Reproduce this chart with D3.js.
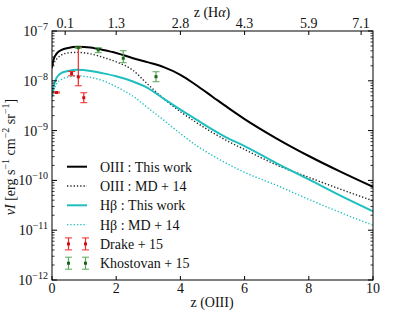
<!DOCTYPE html>
<html>
<head>
<meta charset="utf-8">
<script src="https://cdn.jsdelivr.net/npm/d3@7"></script>
<style>
  body { margin: 0; background: #fff; }
  svg { display: block; font-family: "Liberation Serif", "DejaVu Serif", serif; }
</style>
</head>
<body>
<div id="chart"></div>
<script>
// redshift grid shared by the four model curves
const zGrid = [0, 0.05, 0.15, 0.3, 0.5, 0.8, 1.2, 1.6, 2.0, 2.5, 3.0, 3.5, 4.0, 4.5, 5.0, 5.5, 6.0, 7.0, 8.0, 9.0, 10.0];

const oiiiThisWork = [1.91e-8, 2.69e-8, 3.55e-8, 4.17e-8, 4.57e-8, 4.84e-8, 4.68e-8, 4.17e-8, 3.63e-8, 2.88e-8, 2.34e-8,
  1.86e-8, 1.32e-8, 8.13e-9, 4.79e-9, 2.82e-9, 1.70e-9, 6.92e-10, 3.09e-10, 1.48e-10, 7.41e-11];
const oiiiMD14 = [1.78e-8, 2.19e-8, 2.75e-8, 3.31e-8, 3.63e-8, 3.72e-8, 3.47e-8, 2.95e-8, 2.40e-8, 1.66e-8, 8.32e-9,
  4.27e-9, 2.40e-9, 1.45e-9, 9.12e-10, 6.03e-10, 4.17e-10, 2.04e-10, 1.15e-10, 6.61e-11, 3.89e-11];
const hbThisWork = [4.79e-9, 7.59e-9, 1.17e-8, 1.45e-8, 1.58e-8, 1.66e-8, 1.58e-8, 1.41e-8, 1.23e-8, 9.77e-9, 7.08e-9,
  4.27e-9, 2.63e-9, 1.66e-9, 1.05e-9, 6.92e-10, 4.90e-10, 2.19e-10, 1.05e-10, 4.90e-11, 2.40e-11];
const hbMD14 = [4.79e-9, 6.31e-9, 8.91e-9, 1.07e-8, 1.20e-8, 1.26e-8, 1.17e-8, 1.00e-8, 7.59e-9, 5.01e-9, 2.82e-9,
  1.58e-9, 8.71e-10, 5.01e-10, 3.16e-10, 2.09e-10, 1.45e-10, 7.94e-11, 4.17e-11, 2.24e-11, 1.26e-11];

// measurements
const drakeZ = [0.14, 0.61, 0.82, 0.99];
const drakeVal = [5.82e-9, 1.40e-8, 1.20e-8, 4.57e-9];
const drakeLo = [5.7e-9, 1.26e-8, 7.94e-9, 3.63e-9];
const drakeHi = [5.95e-9, 1.54e-8, 4.68e-8, 5.75e-9];

const khostZ = [0.82, 1.44, 2.22, 3.24];
const khostVal = [4.62e-8, 4.17e-8, 2.83e-8, 1.21e-8];
const khostLo = [4.5e-8, 3.67e-8, 2.31e-8, 9.59e-9];
const khostHi = [4.75e-8, 4.62e-8, 4.02e-8, 1.52e-8];

// axis ticks
const xTicks = [0, 2, 4, 6, 8, 10];
const yTicks = [1e-12, 1e-11, 1e-10, 1e-9, 1e-8, 1e-7];
const yExps = ['\u221212', '\u221211', '\u221210', '\u22129', '\u22128', '\u22127'];
// top axis: z(Halpha) labels placed at z(OIII) positions
const topTickPos = [0.41, 2, 4, 6, 8, 9.63];
const topTickLabels = ['0.1', '1.3', '2.8', '4.3', '5.9', '7.1'];

const width = 415, height = 312;
const margin = {left: 52, right: 42, top: 31, bottom: 32};
const fs = 14, fsSup = 10;

const svg = d3.select('#chart').append('svg')
  .attr('width', width).attr('height', height);

const x = d3.scaleLinear().domain([0, 10]).range([margin.left, width - margin.right]);
const y = d3.scaleLog().domain([1e-12, 1e-7]).range([height - margin.bottom, margin.top]);

const cyan = '#1fbfbf';
const series = [
  {name: 'OIII : This work', vals: oiiiThisWork, color: '#000', dash: null, w: 2},
  {name: 'OIII : MD + 14', vals: oiiiMD14, color: '#222', dash: '1.3,2', w: 1.4},
  {name: 'H\u03b2 : This work', vals: hbThisWork, color: cyan, dash: null, w: 2},
  {name: 'H\u03b2 : MD + 14', vals: hbMD14, color: cyan, dash: '1.3,2', w: 1.4}
];

const line = d3.line()
  .x((d, i) => x(zGrid[i]))
  .y(d => y(d))
  .curve(d3.curveMonotoneX);

svg.append('defs').append('clipPath').attr('id', 'clip')
  .append('rect')
  .attr('x', x(0)).attr('y', y(1e-7))
  .attr('width', x(10) - x(0)).attr('height', y(1e-12) - y(1e-7));

const plot = svg.append('g').attr('clip-path', 'url(#clip)');

series.forEach(s => {
  plot.append('path')
    .attr('d', line(s.vals))
    .attr('fill', 'none')
    .attr('stroke', s.color)
    .attr('stroke-width', s.w)
    .attr('stroke-dasharray', s.dash);
});

function errorBars(g, zs, vals, lo, hi, barColor, markColor) {
  zs.forEach((z, i) => {
    const cx = x(z);
    g.append('line')
      .attr('x1', cx).attr('x2', cx)
      .attr('y1', y(lo[i])).attr('y2', y(hi[i]))
      .attr('stroke', barColor).attr('stroke-width', 1.2);
    [lo[i], hi[i]].forEach(v => {
      g.append('line')
        .attr('x1', cx - 3.5).attr('x2', cx + 3.5)
        .attr('y1', y(v)).attr('y2', y(v))
        .attr('stroke', barColor).attr('stroke-width', 1);
    });
    g.append('rect')
      .attr('x', cx - 1.5).attr('y', y(vals[i]) - 1.5)
      .attr('width', 3).attr('height', 3)
      .attr('fill', markColor);
  });
}

const redBar = '#f02a2a', redMark = '#d01010';
const greenBar = '#5aa85a', greenMark = '#156b15';
errorBars(svg.append('g'), drakeZ, drakeVal, drakeLo, drakeHi, redBar, redMark);
errorBars(svg.append('g'), khostZ, khostVal, khostLo, khostHi, greenBar, greenMark);

// frame
const axes = svg.append('g').attr('stroke', '#000').attr('fill', 'none');
axes.append('rect')
  .attr('x', x(0)).attr('y', y(1e-7))
  .attr('width', x(10) - x(0)).attr('height', y(1e-12) - y(1e-7))
  .attr('stroke-width', 1);

// bottom ticks (inward)
xTicks.forEach(t => {
  axes.append('line').attr('x1', x(t)).attr('x2', x(t))
    .attr('y1', y(1e-12)).attr('y2', y(1e-12) - 4);
});
// top ticks
topTickPos.forEach(t => {
  axes.append('line').attr('x1', x(t)).attr('x2', x(t))
    .attr('y1', y(1e-7)).attr('y2', y(1e-7) + 4);
});
// y ticks, major and minor, both sides
yTicks.forEach((t, i) => {
  [[x(0), 1], [x(10), -1]].forEach(([px, dir]) => {
    axes.append('line').attr('x1', px).attr('x2', px + dir * 5)
      .attr('y1', y(t)).attr('y2', y(t));
    if (i < yTicks.length - 1) {
      for (let k = 2; k <= 9; k++) {
        axes.append('line').attr('x1', px).attr('x2', px + dir * 2.5)
          .attr('y1', y(t * k)).attr('y2', y(t * k)).attr('stroke-width', 0.8);
      }
    }
  });
});

// tick labels
const labels = svg.append('g').attr('fill', '#111').attr('font-size', fs);
xTicks.forEach(t => {
  labels.append('text').attr('x', x(t)).attr('y', 293)
    .attr('text-anchor', 'middle').text(t);
});
topTickPos.forEach((t, i) => {
  labels.append('text').attr('x', x(t)).attr('y', 28)
    .attr('text-anchor', 'middle').text(topTickLabels[i]);
});
yTicks.forEach((t, i) => {
  const tx = labels.append('text').attr('x', 48).attr('y', y(t) + 5)
    .attr('text-anchor', 'end');
  tx.append('tspan').text('10');
  tx.append('tspan').attr('dy', -6).attr('font-size', fsSup).text(yExps[i]);
});

// axis titles
labels.append('text').attr('x', 212).attr('y', 307).attr('text-anchor', 'middle')
  .text('z (OIII)');
labels.append('text').attr('x', 212).attr('y', 17).attr('text-anchor', 'middle')
  .html('z (H<tspan font-style="italic">\u03b1</tspan>)');

const yl = labels.append('text')
  .attr('transform', 'translate(15,157) rotate(-90)')
  .attr('text-anchor', 'middle');
yl.append('tspan').attr('font-style', 'italic').text('\u03bdI');
yl.append('tspan').text(' [erg s');
yl.append('tspan').attr('dy', -6).attr('font-size', fsSup).text('\u22121');
yl.append('tspan').attr('dy', 6).text(' cm');
yl.append('tspan').attr('dy', -6).attr('font-size', fsSup).text('\u22122');
yl.append('tspan').attr('dy', 6).text(' sr');
yl.append('tspan').attr('dy', -6).attr('font-size', fsSup).text('\u22121');
yl.append('tspan').attr('dy', 6).text(']');

// legend
const legend = svg.append('g');
const legY0 = 166.7, legStep = 19.3;
series.forEach((s, i) => {
  const ly = legY0 + i * legStep;
  legend.append('line')
    .attr('x1', 67).attr('x2', 87).attr('y1', ly).attr('y2', ly)
    .attr('stroke', s.color).attr('stroke-width', s.w)
    .attr('stroke-dasharray', s.dash);
  legend.append('text').attr('x', 100).attr('y', ly + 5)
    .attr('font-size', fs).attr('fill', '#111').text(s.name);
});
const legPts = [
  {name: 'Drake + 15', bar: redBar, mark: redMark},
  {name: 'Khostovan + 15', bar: greenBar, mark: greenMark}
];
legPts.forEach((p, j) => {
  const ly = legY0 + (4 + j) * legStep;
  [68.5, 85.5].forEach(px => {
    legend.append('line').attr('x1', px).attr('x2', px)
      .attr('y1', ly - 6).attr('y2', ly + 6)
      .attr('stroke', p.bar).attr('stroke-width', 1.2);
    [ly - 6, ly + 6].forEach(cy => {
      legend.append('line').attr('x1', px - 3.5).attr('x2', px + 3.5)
        .attr('y1', cy).attr('y2', cy).attr('stroke', p.bar);
    });
    legend.append('rect').attr('x', px - 1.5).attr('y', ly - 1.5)
      .attr('width', 3).attr('height', 3).attr('fill', p.mark);
  });
  legend.append('text').attr('x', 100).attr('y', ly + 5)
    .attr('font-size', fs).attr('fill', '#111').text(p.name);
});
</script>
</body>
</html>
